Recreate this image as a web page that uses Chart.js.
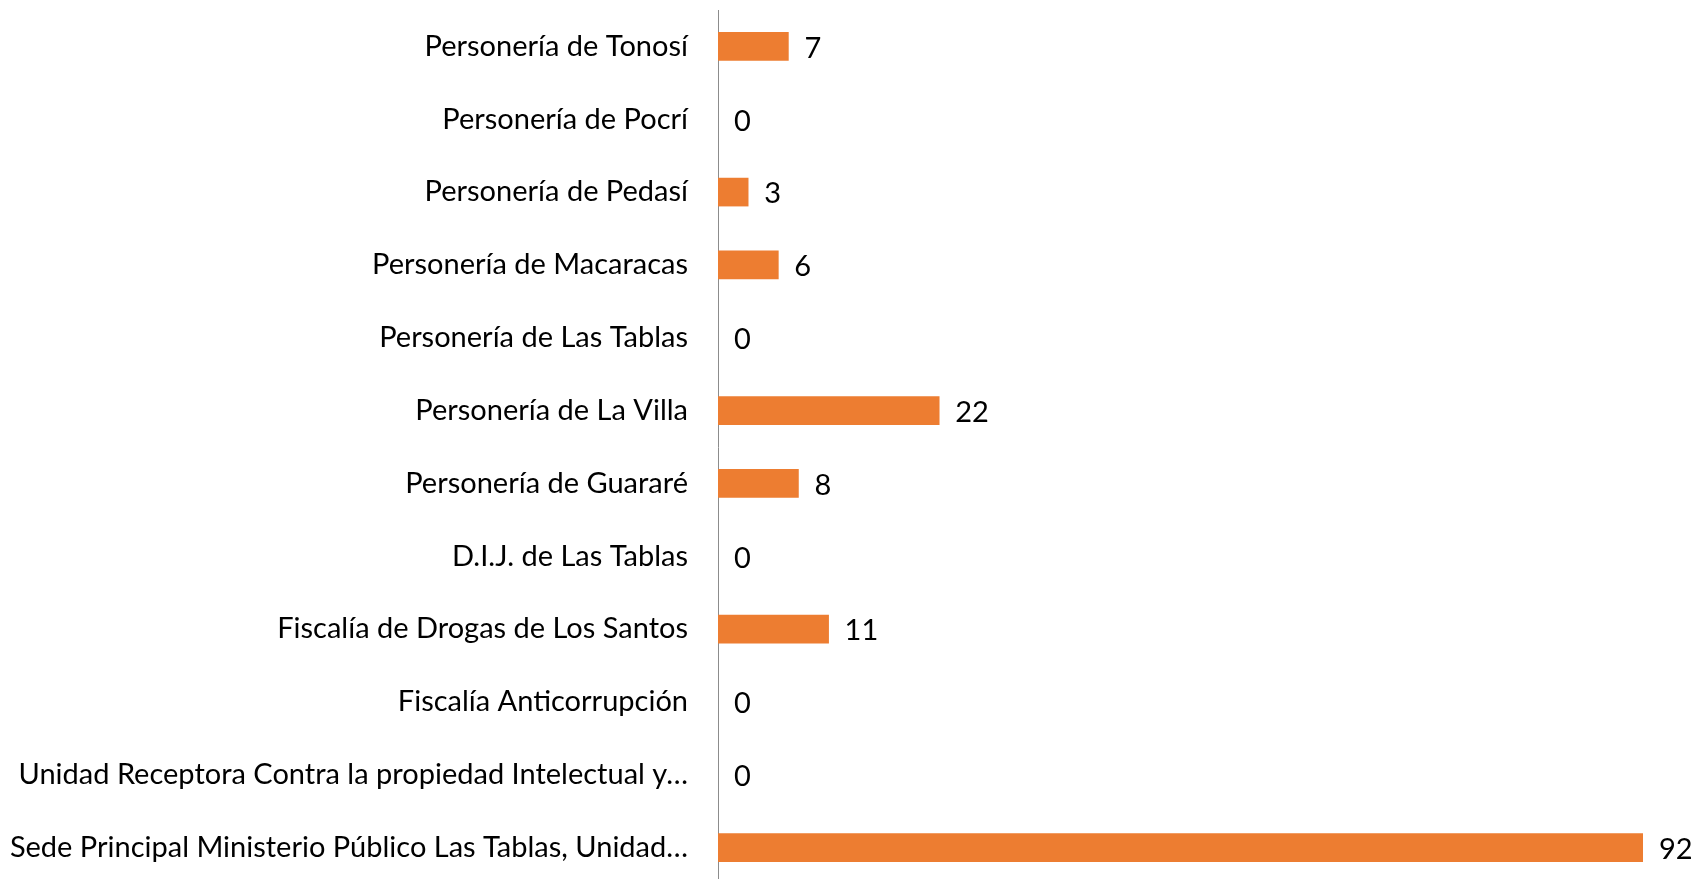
<!DOCTYPE html>
<html>
<head>
<meta charset="utf-8">
<script src="https://cdn.jsdelivr.net/npm/chart.js@4"></script>
<style>
  html, body { margin: 0; padding: 0; background: #fff; overflow: hidden; }
  #chart { display: block; }
</style>
</head>
<body>
<canvas id="chart" width="1695" height="884"></canvas>
<script>
// categories, top to bottom as in the picture
const oficinas = [
    "Personería de Tonosí",
    "Personería de Pocrí",
    "Personería de Pedasí",
    "Personería de Macaracas",
    "Personería de Las Tablas",
    "Personería de La Villa",
    "Personería de Guararé",
    "D.I.J. de Las Tablas",
    "Fiscalía de Drogas de Los Santos",
    "Fiscalía Anticorrupción",
    "Unidad Receptora Contra la propiedad Intelectual y…",
    "Sede Principal Ministerio Público Las Tablas, Unidad…"
];
const casos = [7, 0, 3, 6, 0, 22, 8, 0, 11, 0, 0, 92];

const FONT = "Lato, 'Open Sans', sans-serif";
const FONT_SIZE = 29;

// draw the number to the right of each bar
const valueLabels = {
    id: "valueLabels",
    afterDatasetsDraw(chart) {
        const ctx = chart.ctx;
        const meta = chart.getDatasetMeta(0);
        ctx.save();
        ctx.font = FONT_SIZE + "px " + FONT;
        ctx.fillStyle = "#000";
        ctx.textAlign = "left";
        ctx.textBaseline = "middle";
        meta.data.forEach((bar, i) => {
            ctx.fillText(String(casos[i]), bar.x + 16, bar.y + 2);
        });
        ctx.restore();
    }
};

const ctx = document.getElementById("chart").getContext("2d");
new Chart(ctx, {
    type: "bar",
    data: {
        labels: oficinas,
        datasets: [{
            data: casos,
            backgroundColor: (c) => (c.raw ? "#ED7D31" : "rgba(0,0,0,0)"),
            barThickness: 28
        }]
    },
    options: {
        indexAxis: "y",
        responsive: false,
        animation: false,
        layout: { padding: { top: 10, right: 52, bottom: 0, left: 0 } },
        plugins: {
            legend: { display: false },
            tooltip: { enabled: false }
        },
        scales: {
            x: {
                display: false,
                min: 0,
                max: 92
            },
            y: {
                grid: { display: false, drawTicks: false },
                border: { display: true, color: "#8c8c8c", width: 1 },
                ticks: {
                    color: "#000",
                    padding: 30,
                    font: { family: FONT, size: FONT_SIZE }
                },
                afterFit(scale) {
                    scale.width = 718;
                    scale.paddingTop = 0;
                    scale.paddingBottom = 0;
                }
            }
        }
    },
    plugins: [valueLabels]
});
</script>
</body>
</html>
